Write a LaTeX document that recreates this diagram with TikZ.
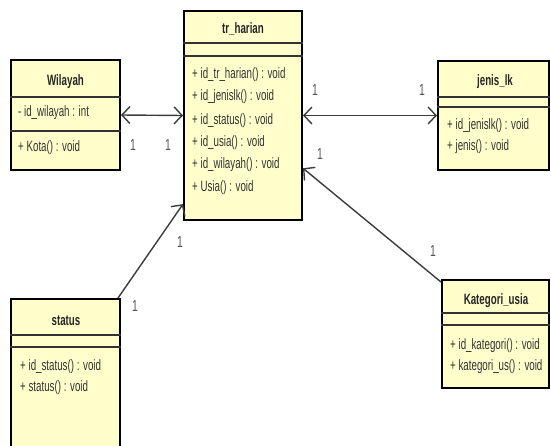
\documentclass[tikz,border=0pt]{standalone}
\usepackage{fontspec}
\setmainfont{Liberation Sans}[FakeStretch=0.65]
\usetikzlibrary{arrows.meta,calc}
\definecolor{classfill}{HTML}{FFFFCC}
\definecolor{ink}{HTML}{333333}
\definecolor{linkgray}{HTML}{3C3C3C}
\definecolor{multgray}{HTML}{555555}
\tikzset{barbtip/.tip={Straight Barb[length=8pt,width=17pt]}}

\begin{document}
\begin{tikzpicture}[x=1pt,y=-1pt,
  classbox/.style={draw=black, line width=2pt, fill=classfill, inner sep=0pt, rectangle},
  sep/.style={draw=black!80, line width=1.1pt},
  cname/.style={font=\bfseries\fontsize{15}{17}\selectfont, text=black!85, inner sep=0pt, anchor=base},
  member/.style={font=\fontsize{15}{17}\selectfont, text=ink, inner sep=0pt, anchor=base west},
  mult/.style={font=\fontsize{16}{18}\selectfont, text=multgray, inner sep=0pt},
  assoc/.style={draw=linkgray, line width=1.4pt}]

\clip (0,0) rectangle (551,446);
\fill[white] (0,0) rectangle (551,446);

% ---- class boxes ----
\node[classbox, minimum width=109pt, minimum height=110pt] (wil) at (65.5,115) {};
\node[classbox, minimum width=118pt, minimum height=209pt] (tr) at (243,115.5) {};
\node[classbox, minimum width=111pt, minimum height=109pt] (jen) at (493.5,115.5) {};
\node[classbox, minimum width=107pt, minimum height=108pt] (kat) at (495.5,334) {};
\node[classbox, minimum width=109pt, minimum height=171pt] (stat) at (65.5,384.5) {};

% ---- compartment separators ----
\draw[sep] (wil.west |- 0,97) -- (wil.east |- 0,97);
\draw[sep] (wil.west |- 0,131) -- (wil.east |- 0,131);
\draw[sep] (tr.west |- 0,43) -- (tr.east |- 0,43);
\draw[sep] (tr.west |- 0,56) -- (tr.east |- 0,56);
\draw[sep] (jen.west |- 0,97) -- (jen.east |- 0,97);
\draw[sep] (jen.west |- 0,107) -- (jen.east |- 0,107);
\draw[sep] (kat.west |- 0,313) -- (kat.east |- 0,313);
\draw[sep] (kat.west |- 0,325) -- (kat.east |- 0,325);
\draw[sep] (stat.west |- 0,335) -- (stat.east |- 0,335);
\draw[sep] (stat.west |- 0,347) -- (stat.east |- 0,347);

% ---- class names ----
\node[cname] (wilname) at (65.5,86) {Wilayah};
\node[cname] (trname) at (243,34) {tr\_harian};
\node[cname] (jenname) at (495,86) {jenis\_lk};
\node[cname] (katname) at (496,304) {Kategori\_usia};
\node[cname] (statname) at (66,325) {status};

% ---- members ----
\node[member] (wila) at (18,117) {- id\_wilayah : int};
\node[member] (wilm) at (18,152) {+ Kota() : void};

\node[member] (trm1) at (192,79) {+ id\_tr\_harian() : void};
\node[member] (trm2) at (192,101) {+ id\_jenislk() : void};
\node[member] (trm3) at (192,125) {+ id\_status() : void};
\node[member] (trm4) at (192,147) {+ id\_usia() : void};
\node[member] (trm5) at (192,169) {+ id\_wilayah() : void};
\node[member] (trm6) at (192,192) {+ Usia() : void};

\node[member] (jenm1) at (447,130) {+ id\_jenislk() : void};
\node[member] (jenm2) at (447,151) {+ jenis() : void};

\node[member] (katm1) at (450,349) {+ id\_kategori() : void};
\node[member] (katm2) at (450,370) {+ kategori\_us() : void};

\node[member] (statm1) at (20,370) {+ id\_status() : void};
\node[member] (statm2) at (20,391) {+ status() : void};

% ---- associations ----
\draw[assoc, barbtip-barbtip] (wil.east) -- (tr.west);
\draw[assoc, barbtip-barbtip] (tr.east) -- (jen.west);
\draw[assoc, -barbtip] ([yshift=-3pt]kat.north west) -- ($(tr.south east)!0.25!(tr.north east)$);
\draw[assoc, -barbtip] ([xshift=-3pt]stat.north east) -- ($(tr.south west)!0.08!(tr.north west)$);

% ---- multiplicities ----
\node[mult] (m1) at (133,145) {1};
\node[mult] (m2) at (168,145) {1};
\node[mult] (m3) at (315,90) {1};
\node[mult] (m4) at (422,90) {1};
\node[mult] (m5) at (433,251) {1};
\node[mult] (m6) at (320,154) {1};
\node[mult] (m7) at (135,306) {1};
\node[mult] (m8) at (180,242) {1};
\end{tikzpicture}
\end{document}
